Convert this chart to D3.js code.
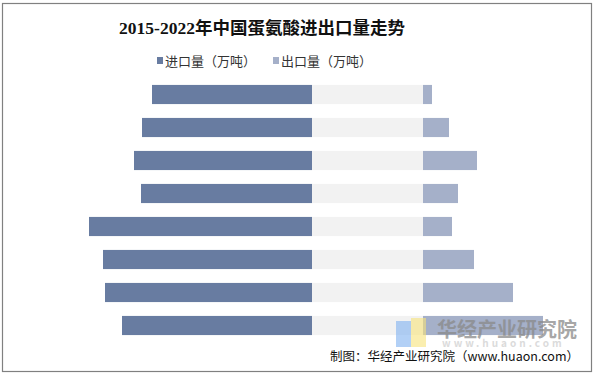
<!DOCTYPE html>
<html lang="zh">
<head>
<meta charset="UTF-8">
<title>2015-2022年中国蛋氨酸进出口量走势</title>
<script src="https://d3js.org/d3.v7.min.js"></script>
<style>
  body { margin: 0; background: #fff; }
  text { font-family: "Noto Sans CJK SC", "Noto Sans", sans-serif; }
</style>
</head>
<body>
<script>
// data (万吨), top row = 2015
var years = ["2015", "2016", "2017", "2018", "2019", "2020", "2021", "2022"];
var imports = [16.0, 17.0, 17.8, 17.1, 22.3, 20.9, 20.7, 19.0];
var exports = [0.9, 2.6, 5.4, 3.5, 2.9, 5.1, 9.0, 12.0];
var legendLabels = ["进口量（万吨）", "出口量（万吨）"];

var width = 595, height = 375;
var midLeft = 312, midRight = 423;

var svg = d3.select("body").append("svg")
    .attr("width", width).attr("height", height);

svg.append("rect").attr("x", 2.5).attr("y", 3.5)
    .attr("width", 589).attr("height", 368)
    .attr("fill", "#fff").attr("stroke", "#808080").attr("stroke-width", 1.2);

svg.append("text").attr("x", 262).attr("y", 34)
    .attr("text-anchor", "middle").attr("font-size", "17.5px")
    .attr("font-weight", "bold").attr("fill", "#111")
    .style("font-family", "'Liberation Serif', 'Noto Sans CJK SC', serif")
    .text("2015-2022年中国蛋氨酸进出口量走势");

var colors = ["#687ca1", "#a5b0c9"];
var legendX = [157, 273];
legendLabels.forEach(function (t, i) {
    svg.append("rect").attr("x", legendX[i]).attr("y", 57)
        .attr("width", 6).attr("height", 7).attr("fill", colors[i]);
    svg.append("text").attr("x", legendX[i] + 8).attr("y", 65.5)
        .attr("font-size", "13px").attr("fill", "#333").text(t);
});

var y = d3.scaleBand().domain(years).range([78, 342]).paddingInner(0.42).paddingOuter(0.21);
var xl = d3.scaleLinear().domain([0, 10]).range([midLeft, midLeft - 100]);
var xr = d3.scaleLinear().domain([0, 10]).range([midRight, midRight + 100]);

// middle spacer band
svg.selectAll(".mid").data(years).enter().append("rect")
    .attr("class", "mid")
    .attr("x", midLeft).attr("y", function (d) { return y(d); })
    .attr("width", midRight - midLeft).attr("height", y.bandwidth())
    .attr("fill", "#f2f2f2");

svg.selectAll(".imp").data(imports).enter().append("rect")
    .attr("class", "imp")
    .attr("x", function (d) { return xl(d); })
    .attr("y", function (d, i) { return y(years[i]); })
    .attr("width", function (d) { return xl(0) - xl(d); })
    .attr("height", y.bandwidth())
    .attr("fill", colors[0]);

svg.selectAll(".exp").data(exports).enter().append("rect")
    .attr("class", "exp")
    .attr("x", xr(0))
    .attr("y", function (d, i) { return y(years[i]); })
    .attr("width", function (d) { return xr(d) - xr(0); })
    .attr("height", y.bandwidth())
    .attr("fill", colors[1]);

// watermark
var wm = svg.append("g");
wm.append("rect").attr("x", 396).attr("y", 321).attr("width", 15).attr("height", 26)
    .attr("fill", "#7fb0f0").attr("opacity", 0.6);
wm.append("rect").attr("x", 411).attr("y", 318).attr("width", 15).attr("height", 29)
    .attr("fill", "#f7e27a").attr("opacity", 0.6);
wm.append("text").attr("x", 437).attr("y", 337)
    .attr("font-size", "20px").attr("font-weight", "bold")
    .attr("fill", "#8a8a8a").attr("opacity", 0.75).text("华经产业研究院");
wm.append("text").attr("x", 442).attr("y", 347)
    .attr("font-size", "10px").attr("font-weight", "bold").attr("letter-spacing", "3px")
    .attr("fill", "#999").attr("opacity", 0.35).text("www.huaon.com");

svg.append("text").attr("x", 579).attr("y", 361)
    .attr("text-anchor", "end").attr("font-size", "12.5px").attr("fill", "#111")
    .text("制图：华经产业研究院（www.huaon.com）");
</script>
</body>
</html>
